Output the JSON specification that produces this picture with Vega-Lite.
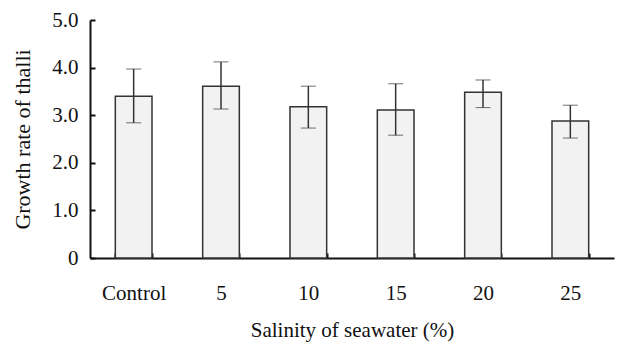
{
  "$schema": "https://vega.github.io/schema/vega-lite/v6.json",
  "autosize": {"type": "none"},
  "width": 524,
  "height": 238,
  "padding": {"left": 90, "top": 20, "right": 8, "bottom": 86},
  "background": "white",
  "config": {
    "view": {"stroke": null},
    "font": "Liberation Serif",
    "axis": {
      "labelFont": "Liberation Serif",
      "titleFont": "Liberation Serif",
      "labelColor": "#111",
      "titleColor": "#111",
      "titleFontWeight": "normal",
      "domainColor": "#111",
      "tickColor": "#111",
      "grid": false
    }
  },
  "data": {
    "values": [
      {"salinity": "Control", "rate": 3.40, "lower": 2.84, "upper": 3.97},
      {"salinity": "5", "rate": 3.61, "lower": 3.13, "upper": 4.12},
      {"salinity": "10", "rate": 3.18, "lower": 2.73, "upper": 3.61},
      {"salinity": "15", "rate": 3.11, "lower": 2.58, "upper": 3.66},
      {"salinity": "20", "rate": 3.48, "lower": 3.16, "upper": 3.74},
      {"salinity": "25", "rate": 2.88, "lower": 2.52, "upper": 3.21}
    ]
  },
  "encoding": {
    "x": {
      "field": "salinity",
      "type": "nominal",
      "sort": null,
      "scale": {"paddingInner": 0.58, "paddingOuter": 0.29},
      "axis": {
        "title": "Salinity of seawater (%)",
        "titleFontSize": 21,
        "titlePadding": 16,
        "labelFontSize": 21,
        "labelAngle": 0,
        "labelPadding": 29,
        "tickBand": "extent",
        "tickSize": -5,
        "tickWidth": 2,
        "domainWidth": 2
      }
    }
  },
  "layer": [
    {
      "mark": {"type": "bar", "fill": "#f2f2f2", "stroke": "#333", "strokeWidth": 1.5},
      "encoding": {
        "y": {
          "field": "rate",
          "type": "quantitative",
          "scale": {"domain": [0, 5], "nice": false},
          "axis": {
            "title": "Growth rate of thalli",
            "titleFontSize": 22,
            "titlePadding": 17,
            "labelFontSize": 21,
            "labelPadding": 17,
            "values": [0, 1, 2, 3, 4, 5],
            "labelExpr": "datum.value == 0 ? '0' : format(datum.value, '.1f')",
            "tickSize": -5,
            "tickWidth": 2,
            "domainWidth": 2
          }
        }
      }
    },
    {
      "mark": {"type": "errorbar", "ticks": {"size": 15, "color": "#333", "strokeWidth": 1.5}, "rule": {"color": "#333", "strokeWidth": 1.5}},
      "encoding": {
        "y": {"field": "lower", "type": "quantitative", "title": "Growth rate of thalli"},
        "y2": {"field": "upper"}
      }
    }
  ]
}
